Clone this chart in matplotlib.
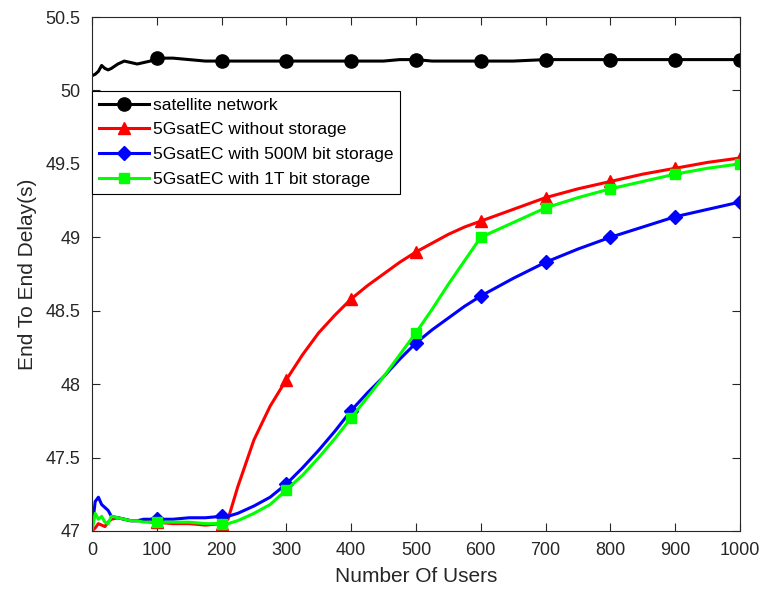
import matplotlib.pyplot as plt
import numpy as np

plt.rcParams['font.family'] = ['Liberation Sans', 'DejaVu Sans']

users = [0, 5, 10, 15, 20, 25, 30, 40, 50, 60, 70, 80, 90, 100, 125, 150, 175, 200, 210,
         225, 250, 275, 300, 325, 350, 375, 400, 425, 450, 475, 500, 525, 550, 575, 600,
         650, 700, 750, 800, 850, 900, 950, 1000]

satellite = [50.1, 50.11, 50.13, 50.17, 50.15, 50.14, 50.15, 50.18, 50.2, 50.19, 50.18, 50.19, 50.2, 50.22,
             50.22, 50.21, 50.2, 50.2, 50.2, 50.2, 50.2, 50.2, 50.2, 50.2, 50.2, 50.2, 50.2, 50.2,
             50.2, 50.21, 50.21, 50.2, 50.2, 50.2, 50.2, 50.2, 50.21, 50.21, 50.21, 50.21, 50.21, 50.21, 50.21]

no_storage = [47.0, 47.02, 47.05, 47.04, 47.03, 47.06, 47.08, 47.09, 47.08, 47.07, 47.07, 47.07, 47.06, 47.06,
              47.05, 47.05, 47.04, 47.05, 47.08, 47.3, 47.62, 47.85, 48.03, 48.2, 48.35, 48.47, 48.58, 48.67,
              48.75, 48.83, 48.9, 48.96, 49.02, 49.07, 49.11, 49.19, 49.27, 49.33, 49.38, 49.43, 49.47, 49.51, 49.54]

storage_500m = [47.0, 47.2, 47.23, 47.18, 47.16, 47.14, 47.1, 47.09, 47.08, 47.07, 47.07, 47.08, 47.08, 47.08,
                47.08, 47.09, 47.09, 47.1, 47.1, 47.12, 47.17, 47.23, 47.32, 47.43, 47.55, 47.68, 47.82, 47.94,
                48.05, 48.17, 48.28, 48.37, 48.45, 48.53, 48.6, 48.72, 48.83, 48.92, 49.0, 49.07, 49.14, 49.19, 49.24]

storage_1t = [47.0, 47.12, 47.08, 47.1, 47.06, 47.05, 47.1, 47.09, 47.08, 47.07, 47.07, 47.06, 47.06, 47.06,
              47.06, 47.06, 47.05, 47.05, 47.05, 47.07, 47.12, 47.18, 47.28, 47.38, 47.5, 47.63, 47.77, 47.91,
              48.05, 48.2, 48.35, 48.51, 48.68, 48.84, 49.0, 49.1, 49.2, 49.27, 49.33, 49.38, 49.43, 49.47, 49.5]

marks = [users.index(u) for u in range(100, 1001, 100)]

fig = plt.figure(figsize=(7.66, 5.95), dpi=100)
ax = fig.add_axes([0.120, 0.1076, 0.846, 0.8638])

ax.plot(users, satellite, '-o', color='black', lw=2.2, ms=9.5, markevery=marks, label='satellite network')
ax.plot(users, no_storage, '-^', color='red', lw=2.2, ms=9, markevery=marks, label='5GsatEC without storage')
ax.plot(users, storage_500m, '-D', color='blue', lw=2.2, ms=7.5, markevery=marks, label='5GsatEC with 500M bit storage')
ax.plot(users, storage_1t, '-s', color='#00ff00', lw=2.2, ms=7.5, markevery=marks, label='5GsatEC with 1T bit storage')

ax.set(xlim=(0, 1000), xticks=np.arange(0, 1001, 100),
       ylim=(47, 50.5), yticks=np.arange(47, 50.51, 0.5))
ax.set_yticklabels(['47', '47.5', '48', '48.5', '49', '49.5', '50', '50.5'])
ax.tick_params(direction='in', top=True, right=True, labelsize=13, length=6, pad=8,
               colors='#262626')
for s in ax.spines.values():
    s.set_color('#262626')
ax.set_xlabel('Number Of Users', fontsize=15, color='#262626', labelpad=6)
ax.set_ylabel('End To End Delay(s)', fontsize=15, color='#262626', labelpad=6)

leg = ax.legend(loc='upper left', bbox_to_anchor=(0.0, 0.857), fontsize=12.5, fancybox=False,
                edgecolor='black', framealpha=1, borderpad=0.4, labelspacing=0.55,
                handlelength=2.9, handletextpad=0.2, borderaxespad=0.0)
leg.get_frame().set_linewidth(0.8)

plt.savefig('out.png', dpi=100)
